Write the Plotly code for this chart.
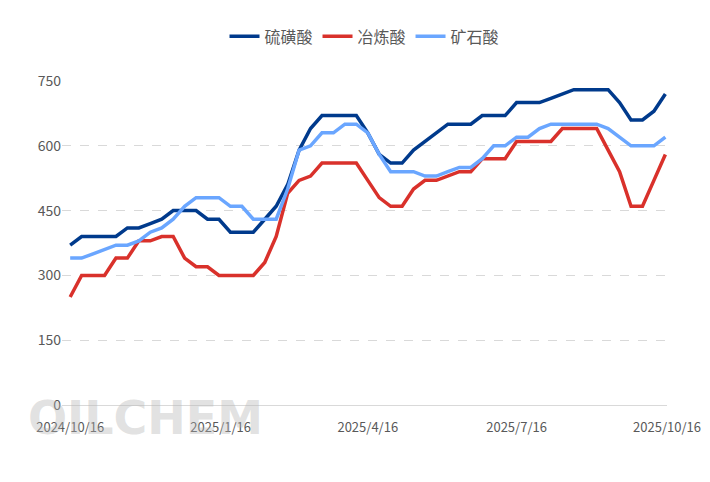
import plotly.graph_objects as go
import pandas as pd

dates = pd.date_range("2024-10-16", periods=53, freq="7D")
sulfur = [370,390,390,390,390,410,410,420,430,450,450,450,430,430,400,400,400,430,460,510,590,640,670,670,670,670,630,580,560,560,590,610,630,650,650,650,670,670,670,700,700,700,710,720,730,730,730,730,700,660,660,680,720]
smelt = [250,300,300,300,340,340,380,380,390,390,340,320,320,300,300,300,300,330,390,490,520,530,560,560,560,560,520,480,460,460,500,520,520,530,540,540,570,570,570,610,610,610,610,640,640,640,640,590,540,460,460,520,580]
ore = [340,340,350,360,370,370,380,400,410,430,460,480,480,480,460,460,430,430,430,500,590,600,630,630,650,650,630,580,540,540,540,530,530,540,550,550,570,600,600,620,620,640,650,650,650,650,650,640,620,600,600,600,620]
names = ["硫磺酸", "冶炼酸", "矿石酸"]
colors = ["#003a8c", "#d9312b", "#6aa6ff"]
tickdates = ["2024-10-16", "2025-01-16", "2025-04-16", "2025-07-16", "2025-10-16"]
ticklabels = ["2024/10/16", "2025/1/16", "2025/4/16", "2025/7/16", "2025/10/16"]

fig = go.Figure()
for n, s, c in zip(names, [sulfur, smelt, ore], colors):
    fig.add_trace(go.Scatter(x=dates, y=s, name=n, mode="lines", line=dict(color=c, width=3.5)))

fig.add_annotation(text="<b>OILCHEM</b>", xref="paper", yref="paper", x=-0.06, y=-0.13,
                   xanchor="left", yanchor="bottom", showarrow=False,
                   font=dict(size=46, color="rgba(180,180,180,0.4)", family="DejaVu Sans"))

fig.update_layout(
    width=694, height=466, plot_bgcolor="white", paper_bgcolor="white",
    margin=dict(l=54, r=35, t=61, b=69),
    font=dict(family="Microsoft YaHei, Noto Sans CJK SC, sans-serif", color="#595959", size=13),
    legend=dict(orientation="h", x=0.5, xanchor="center", y=1.19, yanchor="top", font=dict(size=16)),
    xaxis=dict(range=["2024-10-11", "2025-10-16"], tickvals=tickdates, ticktext=ticklabels,
               showgrid=False, showline=True, linecolor="#d9d9d9", ticks="", tickfont=dict(size=13),
               ticklabelstandoff=10, automargin=False),
    yaxis=dict(range=[0, 750], tickvals=[0,150,300,450,600,750], showgrid=True,
               gridcolor="#d9d9d9", griddash="dash", zeroline=False, tickfont=dict(size=14),
               automargin=False),
)
fig.write_html("out.html")
